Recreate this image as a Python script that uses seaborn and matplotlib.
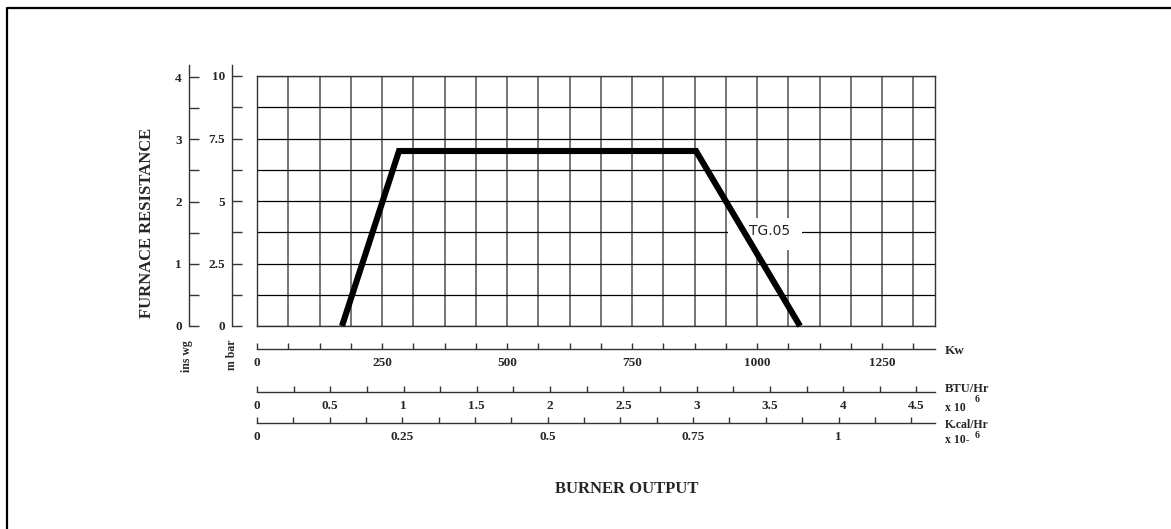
import matplotlib
matplotlib.use('Agg')
import matplotlib.pyplot as plt
from matplotlib.patches import Rectangle
from matplotlib.lines import Line2D
import numpy as np
import pandas as pd
import seaborn as sns

# Burner working field
output_kw = [170, 284, 878, 1086]
resistance_mbar = [0.0, 7.0, 7.0, 0.0]
curve_name = 'TG.05'

# Scale ticks / labels
kw_labels = [0, 250, 500, 750, 1000, 1250]
btu_labels = [0, 0.5, 1, 1.5, 2, 2.5, 3, 3.5, 4, 4.5]
kcal_labels = [0, 0.25, 0.5, 0.75, 1]
mbar_labels = [0, 2.5, 5, 7.5, 10]
inwg_labels = [0, 1, 2, 3, 4]

KW_PER_MBTU = 293.07    # 1e6 BTU/hr in kW
KW_PER_MKCAL = 1163.0   # 1e6 kcal/hr in kW
MBAR_PER_INWG = 2.4884
XMAX = 1356

df = pd.DataFrame({'kw': output_kw, 'mbar': resistance_mbar})

sns.set_style('white')
plt.rcParams['font.family'] = ['Liberation Serif', 'DejaVu Serif']
plt.rcParams['font.weight'] = 'bold'

W, H = 1171, 529
def fx(px):
    return px / W
def fy(py):
    return 1 - py / H

fig = plt.figure(figsize=(11.71, 5.29), dpi=100)

# outer frame (top + left only)
fig.add_artist(Line2D([fx(6.5), fx(6.5), 1.0], [0.0, fy(7.5), fy(7.5)], color='black', lw=1.6))

# main grid
ax = fig.add_axes([fx(257), fy(326), fx(935) - fx(257), fy(76) - fy(326)])
ax.set_axisbelow(True)
sns.lineplot(data=df, x='kw', y='mbar', ax=ax, color='black', lw=4.4, sort=False,
             clip_on=False, zorder=3)
for l in ax.lines:
    l.set_solid_capstyle('butt')
    l.set_solid_joinstyle('miter')
ax.set_xlim(0, XMAX)
ax.set_ylim(0, 10)
ax.set_xticks(np.arange(0, XMAX, 62.5))
ax.set_yticks(np.arange(0, 10.01, 1.25))
ax.tick_params(length=0, labelbottom=False, labelleft=False)
ax.xaxis.grid(True, color='#6a6a6a', lw=1.3)
ax.yaxis.grid(True, color='black', lw=0.9)
ax.set_xlabel('')
ax.set_ylabel('')
for s in ax.spines.values():
    s.set_color('#333333')
    s.set_linewidth(1.0)

# label box for curve name
ax.add_patch(Rectangle((942, 3.04), 148, 1.3, facecolor='white', edgecolor='none', zorder=1))
ax.text(984, 3.8, curve_name, family='DejaVu Sans', fontweight='normal', fontsize=10,
        ha='left', va='center', zorder=2)

tick_font = dict(fontsize=9.5, fontweight='bold')

def fmt(v):
    return ('%g' % v)

# vertical scales
def vscale(xpx, top_val, step, labels):
    a = fig.add_axes([fx(xpx), fy(326), 0.0005, fy(65) - fy(326)])
    a.set_facecolor('none')
    for k in ['top', 'right', 'bottom']:
        a.spines[k].set_visible(False)
    a.spines['left'].set_color('#333333')
    a.spines['left'].set_linewidth(1.0)
    a.set_ylim(0, top_val)
    a.set_xticks([])
    ticks = np.arange(0, labels[-1] + 1e-6, step)
    a.set_yticks(ticks)
    a.set_yticklabels([fmt(t) if any(abs(t - l) < 1e-6 for l in labels) else '' for t in ticks], **tick_font)
    a.tick_params(axis='y', left=True, direction='in', length=7.2, width=1.0, pad=5, color='#333333')
    return a

vscale(188.7, (326 - 65) / 250 * 10 / MBAR_PER_INWG, 0.5, inwg_labels)
vscale(232, (326 - 65) / 25, 1.25, mbar_labels)

# horizontal scales
def hscale(ypx, kw_per_unit, step, labels, last_tick):
    a = fig.add_axes([fx(257), fy(ypx), fx(935) - fx(257), 0.0005])
    a.set_facecolor('none')
    for k in ['top', 'right', 'left']:
        a.spines[k].set_visible(False)
    a.spines['bottom'].set_color('#333333')
    a.spines['bottom'].set_linewidth(1.0)
    a.set_xlim(0, XMAX / kw_per_unit)
    a.set_yticks([])
    ticks = np.arange(0, last_tick + 1e-6, step)
    a.set_xticks(ticks)
    a.set_xticklabels([fmt(t) if any(abs(t - l) < 1e-6 for l in labels) else '' for t in ticks], **tick_font)
    a.tick_params(axis='x', bottom=True, direction='in', length=4.6, width=1.0, pad=6, color='#333333')
    return a

hscale(349, 1.0, 62.5, kw_labels, 1312.5)
hscale(391.7, KW_PER_MBTU, 0.25, btu_labels, 4.5)
hscale(422.7, KW_PER_MKCAL, 0.0625, kcal_labels, 1.125)

# texts
lab = dict(fontweight='bold')
fig.text(fx(147), fy(223), 'FURNACE RESISTANCE', rotation=90, ha='center', va='center', fontsize=12, **lab)
fig.text(fx(627), fy(489), 'BURNER OUTPUT', ha='center', va='center', fontsize=12, **lab)
fig.text(fx(187), fy(340), 'ins wg', rotation=90, ha='center', va='top', fontsize=8.5, **lab)
fig.text(fx(232), fy(340), 'm bar', rotation=90, ha='center', va='top', fontsize=8.5, **lab)

fig.text(fx(945), fy(351), 'Kw', ha='left', va='center', fontsize=9.5, **lab)
fig.text(fx(945), fy(389), 'BTU/Hr', ha='left', va='center', fontsize=9, **lab)
fig.text(fx(945), fy(408), 'x 10', ha='left', va='center', fontsize=8.5, **lab)
fig.text(fx(975), fy(400), '6', ha='left', va='center', fontsize=7, **lab)
fig.text(fx(945), fy(425), 'K.cal/Hr', ha='left', va='center', fontsize=8.5, **lab)
fig.text(fx(945), fy(440), 'x 10-', ha='left', va='center', fontsize=8.5, **lab)
fig.text(fx(975), fy(435), '6', ha='left', va='center', fontsize=7, **lab)

fig.savefig('out.png', dpi=100, facecolor='white')
